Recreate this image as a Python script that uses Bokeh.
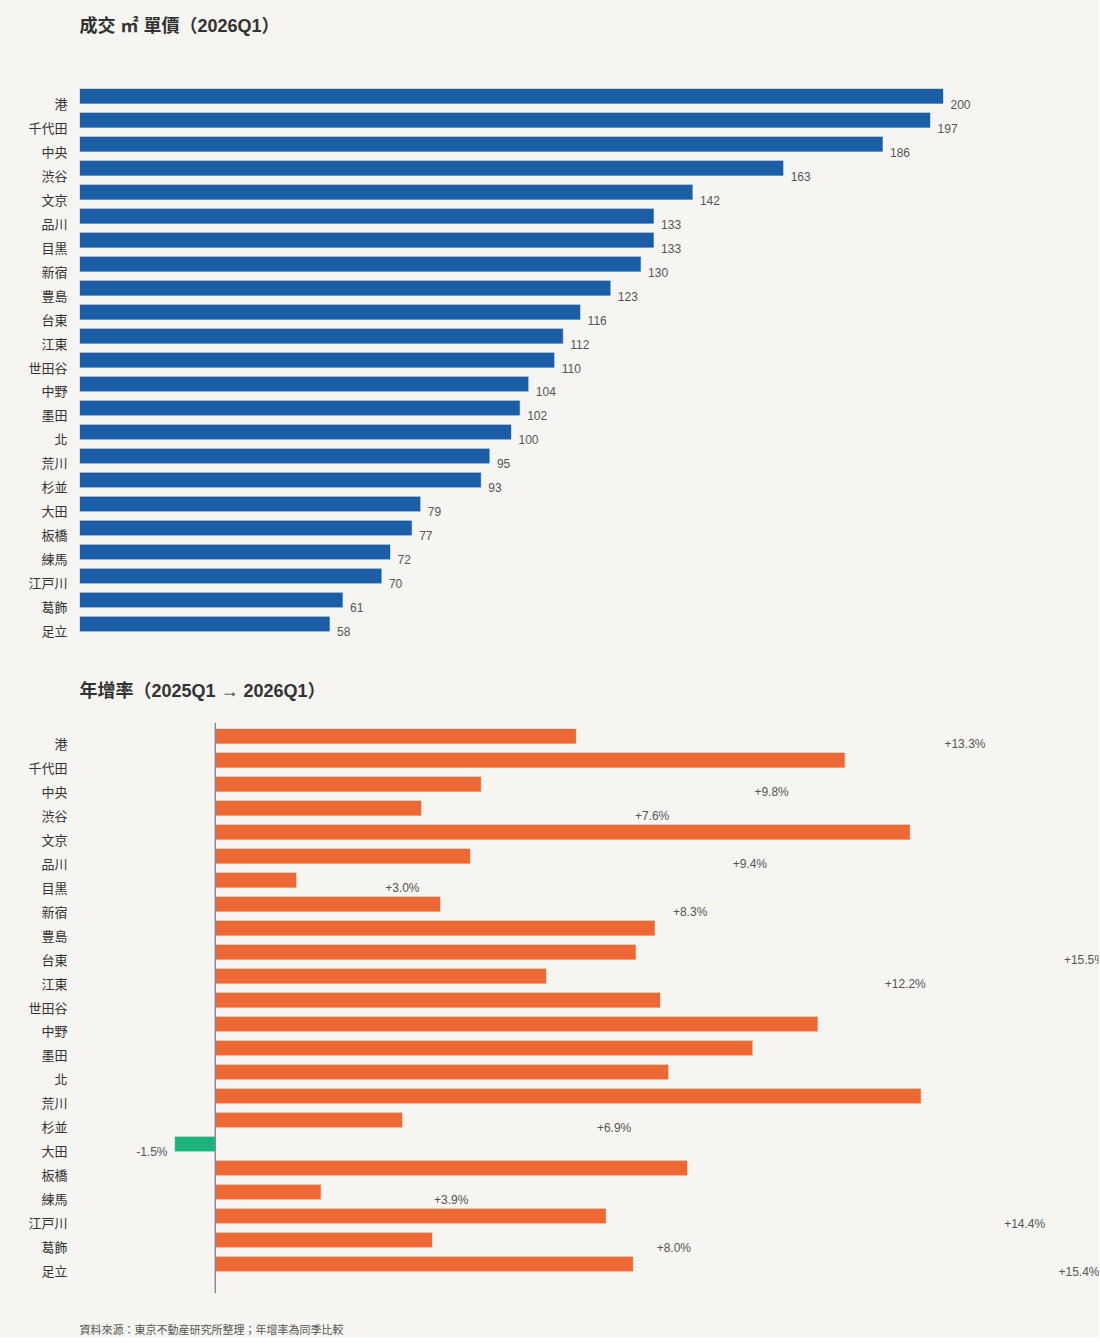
from bokeh.plotting import figure
from bokeh.models import ColumnDataSource, FactorRange, Range1d, Span
from bokeh.transform import dodge
from bokeh.layouts import column
from bokeh.embed import file_html
from bokeh.resources import INLINE
from bokeh.core.properties import value

districts = ["港", "千代田", "中央", "渋谷", "文京", "品川", "目黒", "新宿", "豊島", "台東",
             "江東", "世田谷", "中野", "墨田", "北", "荒川", "杉並", "大田", "板橋", "練馬",
             "江戸川", "葛飾", "足立"]
price = [200, 197, 186, 163, 142, 133, 133, 130, 123, 116, 112, 110, 104, 102, 100, 95,
         93, 79, 77, 72, 70, 61, 58]
growth = [13.3, 23.2, 9.8, 7.6, 25.6, 9.4, 3.0, 8.3, 16.2, 15.5, 12.2, 16.4, 22.2, 19.8,
          16.7, 26.0, 6.9, -1.5, 17.4, 3.9, 14.4, 8.0, 15.4]

title1 = "成交 ㎡ 單價（2026Q1）"
title2 = "年增率（2025Q1 → 2026Q1）"
footer = "資料來源：東京不動産研究所整理；年增率為同季比較"

BG = "#f6f5f1"
BLUE = "#1c5ea6"
ORANGE = "#ec6935"
GREEN = "#1db27b"
FONT = "Liberation Sans, Noto Sans CJK TC"
factors = list(reversed(districts))
FRAME_H = 571
WIDTH = 1099
LEFT = 79
FRAME_W = WIDTH - LEFT


def style_common(p):
    p.background_fill_color = BG
    p.border_fill_color = BG
    p.outline_line_color = None
    p.grid.visible = False


def text_fig(text, top, frame_h, size, bold):
    p = figure(width=WIDTH, height=top + frame_h, x_range=Range1d(0, 1),
               y_range=Range1d(0, 1), output_backend="svg", toolbar_location=None,
               min_border_left=LEFT, min_border_right=0, min_border_top=top,
               min_border_bottom=0)
    style_common(p)
    p.axis.visible = False
    p.title.text = text
    p.title.align = "left"
    p.title.standoff = 0
    p.title.text_font = FONT
    p.title.text_font_size = size
    p.title.text_font_style = "bold" if bold else "normal"
    p.title.text_color = "#333333" if bold else "#555555"
    return p


def make_fig(top, bottom, x_range):
    p = figure(width=WIDTH, height=top + FRAME_H + bottom, x_range=x_range,
               y_range=FactorRange(factors=factors, range_padding=0.4,
                                   range_padding_units="absolute"),
               output_backend="svg", toolbar_location=None,
               min_border_left=LEFT, min_border_right=0,
               min_border_top=top, min_border_bottom=bottom)
    style_common(p)
    p.xaxis.visible = False
    ax = p.yaxis[0]
    ax.axis_line_color = None
    ax.major_tick_line_color = None
    ax.minor_tick_line_color = None
    ax.major_tick_out = 0
    ax.major_tick_in = 0
    ax.major_label_standoff = 12
    ax.major_label_text_font = FONT
    ax.major_label_text_font_size = "13px"
    ax.major_label_text_color = "#333333"
    return p


# ---- chart 1: price ----
t1 = text_fig(title1, 35, 20, "18px", True)

src1 = ColumnDataSource(dict(district=districts, price=price,
                             label=[str(v) for v in price]))
p1 = make_fig(27, 6, Range1d(0, FRAME_W / 4.32))
p1.hbar(y=dodge("district", 0.33, range=p1.y_range), left=0, right="price",
        height=0.65, source=src1, fill_color=BLUE, line_color="white",
        line_alpha=0.6, line_width=1)
p1.text(x="price", y="district", text="label", source=src1, x_offset=7,
        text_align="left", text_baseline="middle", text_font=value(FONT),
        text_font_size="12px", text_color="#555555")

# ---- chart 2: growth ----
t2 = text_fig(title2, 41, 4, "18px", True)

colors = [GREEN if g < 0 else ORANGE for g in growth]
src2 = ColumnDataSource(dict(district=districts, growth=growth, color=colors))
pos_d = [d for d, g in zip(districts, growth) if g >= 0]
pos_g = [g for g in growth if g >= 0]
neg_d = [d for d, g in zip(districts, growth) if g < 0]
neg_g = [g for g in growth if g < 0]
src_pos = ColumnDataSource(dict(district=pos_d, growth=pos_g,
                                label=[f"{g:+.1f}%" for g in pos_g]))
src_neg = ColumnDataSource(dict(district=neg_d, growth=neg_g,
                                label=[f"{g:+.1f}%" for g in neg_g]))

x0 = -5.0
x1 = x0 + FRAME_W / 27.15
p2 = make_fig(18, 9, Range1d(x0, x1))
p2.extra_x_ranges = {"lab": Range1d(x0 / 2, x1 / 2)}
p2.hbar(y=dodge("district", 0.33, range=p2.y_range), left=0, right="growth",
        height=0.65, source=src2, fill_color="color", line_color="white",
        line_alpha=0.6, line_width=1)
p2.add_layout(Span(location=0, dimension="height", line_color="#6e7b88", line_width=1.2))
p2.text(x="growth", y="district", text="label", source=src_pos, x_range_name="lab",
        x_offset=7, text_align="left", text_baseline="middle", text_font=value(FONT),
        text_font_size="12px", text_color="#555555")
p2.text(x="growth", y="district", text="label", source=src_neg, x_offset=-7,
        text_align="right", text_baseline="middle", text_font=value(FONT),
        text_font_size="12px", text_color="#555555")

t3 = text_fig(footer, 33, 2, "11px", False)

layout = column(t1, p1, t2, p2, t3, spacing=0)
layout.styles = {"background-color": BG}
open("out.html", "w").write(file_html(layout, INLINE))
